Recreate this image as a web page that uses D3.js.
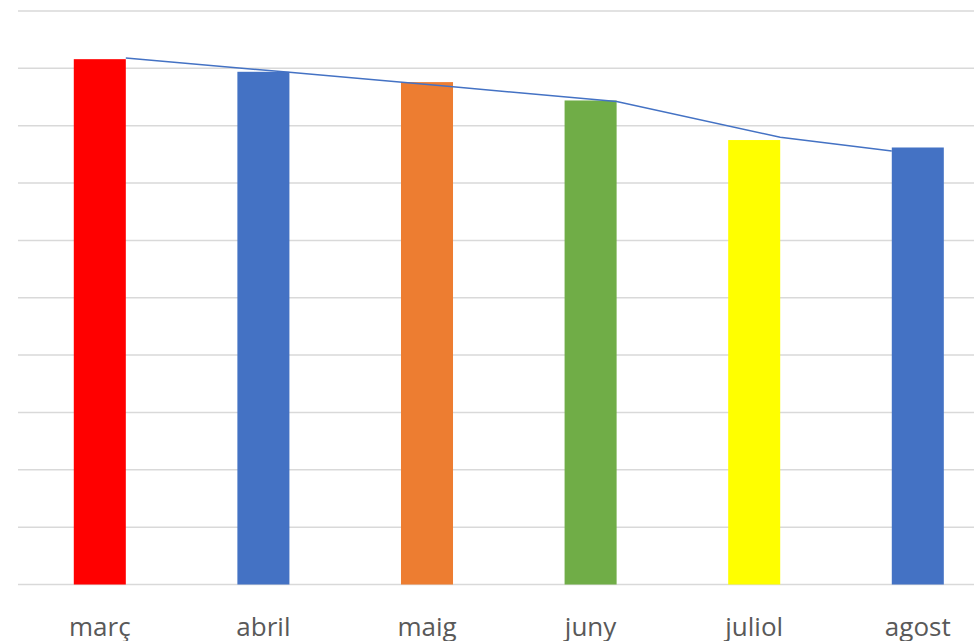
<!DOCTYPE html>
<html>
<head>
    <meta charset="utf-8">
    <script src="https://d3js.org/d3.v7.min.js"></script>
    <style>
        body { margin: 0; background: #fff; }
        svg { display: block; }
    </style>
</head>
<body>
<div id="chart"></div>
<script>
    // data
    const months = ["març", "abril", "maig", "juny", "juliol", "agost"];
    const barValues = [9.16, 8.94, 8.76, 8.44, 7.75, 7.62];
    const barColors = ["#ff0000", "#4472c4", "#ed7d31", "#70ad47", "#ffff00", "#4472c4"];
    const lineValues = [9.18, 8.93, 8.68, 8.42, 7.80, 7.56];
    const gridTicks = d3.range(0, 11);

    const width = 974, height = 641;
    const margin = { top: 11, left: 18, bottom: 56.5 };

    const svg = d3.select("#chart").append("svg")
        .attr("width", width)
        .attr("height", height);

    // plot area runs past the right edge of the picture
    const xScale = d3.scaleBand()
        .domain(months)
        .range([margin.left, margin.left + 6 * 163.6])
        .padding(0);
    const barW = xScale.bandwidth() * 0.318;

    const yScale = d3.scaleLinear()
        .domain([0, 10])
        .range([height - margin.bottom, margin.top]);

    // gridlines
    svg.append("g")
        .selectAll("line")
        .data(gridTicks)
        .enter()
        .append("line")
        .attr("x1", margin.left)
        .attr("x2", width)
        .attr("y1", d => yScale(d))
        .attr("y2", d => yScale(d))
        .style("stroke", "#d9d9d9")
        .style("stroke-width", 1.5);

    const cx = d => xScale(d) + xScale.bandwidth() / 2;

    // bars
    svg.append("g")
        .selectAll("rect")
        .data(months)
        .enter()
        .append("rect")
        .attr("x", d => cx(d) - barW / 2)
        .attr("width", barW)
        .attr("y", (d, i) => yScale(barValues[i]))
        .attr("height", (d, i) => yScale(0) - yScale(barValues[i]))
        .style("fill", (d, i) => barColors[i]);

    // line: anchored at the bars' right edges, last one at the left edge
    const line = d3.line()
        .x((d, i) => cx(months[i]) + (i < months.length - 1 ? barW / 2 : -barW / 2))
        .y(d => yScale(d));

    svg.append("path")
        .datum(lineValues)
        .attr("d", line)
        .style("fill", "none")
        .style("stroke", "#4472c4")
        .style("stroke-width", 1.5);

    // category labels
    svg.append("g")
        .selectAll("text")
        .data(months)
        .enter()
        .append("text")
        .attr("x", d => cx(d))
        .attr("y", 636)
        .attr("text-anchor", "middle")
        .style("font-family", "'Segoe UI', 'Open Sans', sans-serif")
        .style("font-size", "26px")
        .style("fill", "#595959")
        .text(d => d);
</script>
</body>
</html>
